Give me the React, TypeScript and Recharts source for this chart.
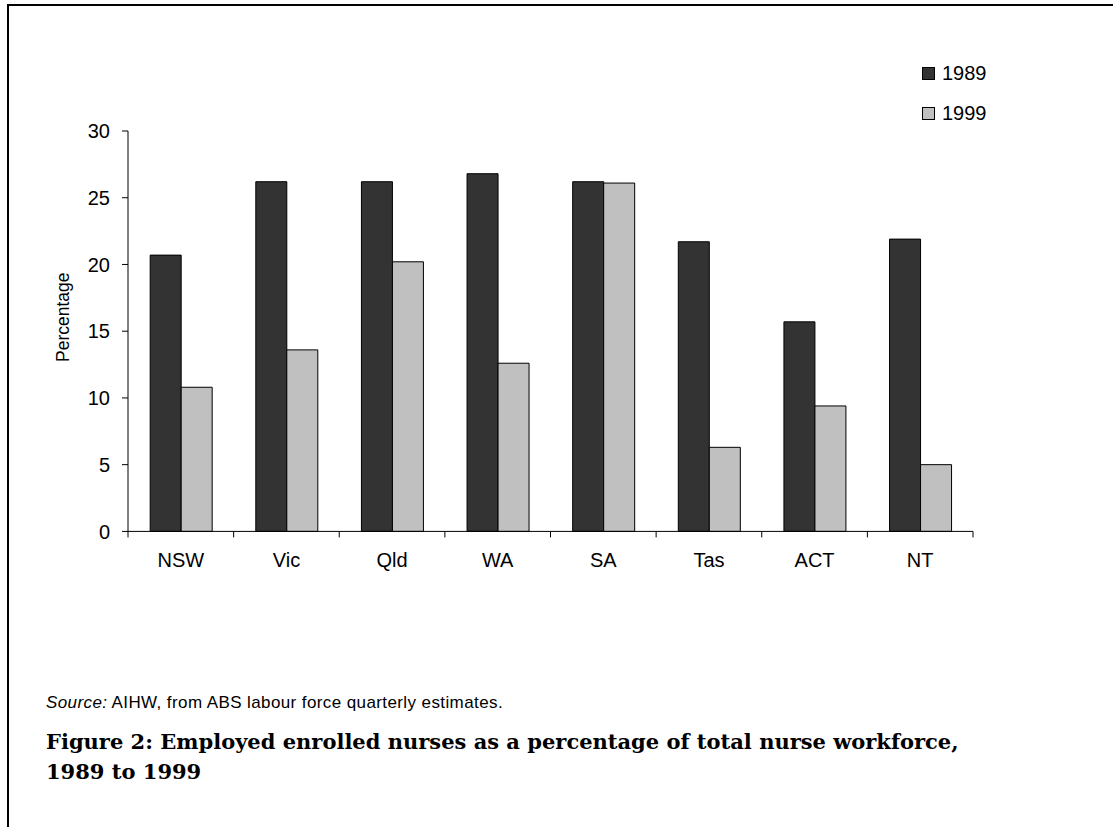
import React from "react";
import { BarChart, Bar, XAxis, YAxis, Legend } from "recharts";

const states = ["NSW", "Vic", "Qld", "WA", "SA", "Tas", "ACT", "NT"];
const pct1989 = [20.7, 26.2, 26.2, 26.8, 26.2, 21.7, 15.7, 21.9];
const pct1999 = [10.8, 13.6, 20.2, 12.6, 26.1, 6.3, 9.4, 5.0];
const yTicks = [0, 5, 10, 15, 20, 25, 30];
const seriesNames = ["1989", "1999"];
const seriesColors = ["#333333", "#c0c0c0"];

const data = states.map((s, i) => ({ state: s, y1989: pct1989[i], y1999: pct1999[i] }));

const TICK_SIZE = 6;
const TICK_MARGIN = 15;

// category label plus a tick mark on the boundary of each band (Excel style)
const CategoryTick = (props: any) => {
  const { x, y, payload, index, visibleTicksCount, width } = props;
  const off = payload && payload.offset ? payload.offset : width / visibleTicksCount / 2;
  const y0 = y - TICK_SIZE - TICK_MARGIN;
  return (
    <g>
      <line x1={x - off} x2={x - off} y1={y0} y2={y0 + TICK_SIZE} stroke="#000" />
      {index === visibleTicksCount - 1 && (
        <line x1={x + off} x2={x + off} y1={y0} y2={y0 + TICK_SIZE} stroke="#000" />
      )}
      <text x={x} y={y} dy="0.71em" textAnchor="middle" fontSize={20} fill="#000">
        {payload.value}
      </text>
    </g>
  );
};

const LegendBox = () => (
  <div style={{ fontFamily: "'Liberation Sans', Arial, sans-serif", fontSize: 20, color: "#000" }}>
    {seriesNames.map((n, i) => (
      <div key={n} style={{ display: "flex", alignItems: "center", height: 40 }}>
        <span
          style={{
            display: "inline-block",
            width: 11,
            height: 11,
            background: seriesColors[i],
            border: "1px solid #000",
            marginRight: 7,
          }}
        />
        <span>{n}</span>
      </div>
    ))}
  </div>
);

const AxisTitle = (props: any) => {
  const vb = props.viewBox || {};
  const cx = vb.x + 53;
  const cy = vb.y + vb.height / 2 - 14;
  return (
    <text
      x={cx}
      y={cy}
      transform={`rotate(-90 ${cx} ${cy})`}
      textAnchor="middle"
      dominantBaseline="central"
      fontSize={17.5}
      fill="#000"
    >
      Percentage
    </text>
  );
};

export default function App() {
  return (
    <div style={{ position: "absolute", left: 0, top: 0, width: 1113, height: 827, background: "#fff" }}>
      <div
        style={{
          position: "absolute",
          left: 7,
          top: 4,
          width: 1106,
          height: 823,
          borderTop: "2px solid #000",
          borderLeft: "2px solid #000",
          boxSizing: "border-box",
          fontFamily: "'Liberation Sans', Arial, sans-serif",
        }}
      >
        <div style={{ position: "absolute", left: 1, top: 1 }}>
          <BarChart
            width={1095}
            height={580}
            data={data}
            margin={{ top: 124, right: 132, left: 0, bottom: 15.6 }}
            barCategoryGap="21%"
            barGap={0}
            style={{ fontFamily: "'Liberation Sans', Arial, sans-serif" }}
          >
            <XAxis
              dataKey="state"
              interval={0}
              tickLine={false}
              axisLine={{ stroke: "#000" }}
              tickSize={TICK_SIZE}
              tickMargin={TICK_MARGIN}
              height={40}
              tick={<CategoryTick />}
            />
            <YAxis
              domain={[0, 30]}
              ticks={yTicks}
              interval={0}
              width={118}
              tickSize={6}
              tickMargin={12}
              axisLine={{ stroke: "#000" }}
              tickLine={{ stroke: "#000" }}
              tick={{ fill: "#000", fontSize: 20 }}
              label={<AxisTitle />}
            />
            <Legend
              layout="horizontal"
              align="center"
              verticalAlign="middle"
              content={<LegendBox />}
              wrapperStyle={{ position: "absolute", left: 912, top: 46, width: 120 }}
            />
            <Bar
              dataKey="y1989"
              name={seriesNames[0]}
              fill={seriesColors[0]}
              stroke="#000"
              strokeWidth={1}
              isAnimationActive={false}
            />
            <Bar
              dataKey="y1999"
              name={seriesNames[1]}
              fill={seriesColors[1]}
              stroke="#000"
              strokeWidth={1}
              isAnimationActive={false}
            />
          </BarChart>
        </div>
        <div
          style={{
            position: "absolute",
            left: 37,
            top: 688,
            fontSize: 17,
            letterSpacing: 0.4,
            lineHeight: "17px",
            whiteSpace: "nowrap",
            color: "#000",
          }}
        >
          <i>Source:</i> AIHW, from ABS labour force quarterly estimates.
        </div>
        <div
          style={{
            position: "absolute",
            left: 37,
            top: 721,
            fontFamily: "'DejaVu Serif', serif",
            fontWeight: "bold",
            fontSize: 21,
            lineHeight: "30px",
            whiteSpace: "nowrap",
            color: "#000",
          }}
        >
          <div>Figure 2: Employed enrolled nurses as a percentage of total nurse workforce,</div>
          <div>1989 to 1999</div>
        </div>
      </div>
    </div>
  );
}
